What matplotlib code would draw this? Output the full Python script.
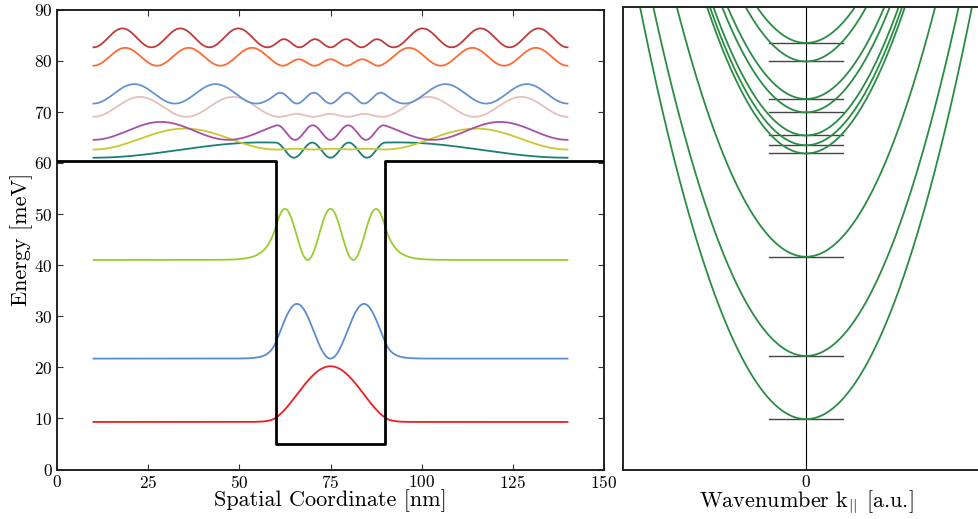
import numpy as np
import matplotlib.pyplot as plt

plt.rcParams['font.family'] = 'serif'
plt.rcParams['font.serif'] = ['cmr10']
plt.rcParams['mathtext.fontset'] = 'cm'
plt.rcParams['axes.formatter.use_mathtext'] = True

# subband energies [meV] (horizontal bars / parabola minima, right panel)
levels = [9.8, 22.1, 41.4, 61.5, 63.1, 65.0, 69.5, 72.1, 79.4, 83.0]
# offset of each |psi|^2 curve in the left panel [meV]
offsets = [9.3, 21.7, 41.0, 61.0, 62.6, 64.5, 69.0, 71.6, 79.0, 82.6]
# peak height of each |psi|^2 curve above its offset [meV]
peaks = [10.9, 10.7, 10.0, 3.0, 4.1, 3.5, 3.9, 3.8, 3.5, 3.7]
colors = ['#ee1d23', '#5b8ccf', '#99cc33', '#1b7f73', '#c8c832',
          '#a64fa6', '#e6bfbc', '#6592d3', '#ff6a33', '#c03b3b']

# conduction band edge of the quantum well
well_x = [0, 60, 60, 90, 90, 150]
well_v = [60.3, 60.3, 5.0, 5.0, 60.3, 60.3]

# simulation box for the wavefunctions
box = (10.0, 140.0)
hb2m = 569.0  # hbar^2 / (2 m*) in meV nm^2, m* = 0.067 m0

# finite-difference Hamiltonian, hard walls at the box edges
n = 1300
x = np.linspace(box[0], box[1], n + 2)
dx = x[1] - x[0]
xi = x[1:-1]
V = np.interp(xi, well_x[1:-1], well_v[1:-1])
t = hb2m / dx**2
H = np.diag(V + 2 * t) - t * np.eye(n, k=1) - t * np.eye(n, k=-1)
E, psi = np.linalg.eigh(H)

fig = plt.figure(figsize=(9.79, 5.19), dpi=100)
W, Hpx = 979.0, 519.0
ax = fig.add_axes([57 / W, (Hpx - 469.5) / Hpx, (604 - 57) / W, (469.5 - 9.5) / Hpx])
ax2 = fig.add_axes([623 / W, (Hpx - 469.5) / Hpx, (989 - 623) / W, (469.5 - 7) / Hpx])

# left panel: potential and probability densities
ax.plot(well_x, well_v, color='black', lw=2.0, zorder=3)
for i in range(len(levels)):
    d = np.zeros(n + 2)
    d[1:-1] = psi[:, i] ** 2
    d = d / d.max() * peaks[i]
    ax.plot(x, offsets[i] + d, color=colors[i], lw=1.3)

ax.set_xlim(0, 150)
ax.set_ylim(0, 90)
ax.set_xticks([0, 25, 50, 75, 100, 125, 150])
ax.set_yticks(range(0, 91, 10))
ax.tick_params(direction='in', top=True, right=True, length=4, labelsize=12.5,
               color='#333333', pad=3)
for s in ax.spines.values():
    s.set_linewidth(1.4)
    s.set_color('#222222')
ax.set_xlabel('Spatial Coordinate [nm]', fontsize=16, labelpad=-1)
ax.set_ylabel('Energy [meV]', fontsize=16, labelpad=1)

# right panel: in-plane dispersion of each subband
k = np.linspace(-1, 1, 401)
curv = 97.5
for e in levels:
    ax2.plot(k, e + curv * k**2, color='#2a8c43', lw=1.3)
    ax2.plot([-0.2, 0.2], [e, e], color='#444444', lw=1.0, zorder=1)
ax2.axvline(0, color='black', lw=0.8, zorder=0)
ax2.set_xlim(-1, 1)
ax2.set_ylim(0, 90)
ax2.set_xticks([0])
ax2.set_yticks([])
ax2.tick_params(length=0, labelsize=12.5, pad=3)
for s in ax2.spines.values():
    s.set_linewidth(1.4)
    s.set_color('#222222')
ax2.set_xlabel(r'Wavenumber k$_{||}$ [a.u.]', fontsize=16, labelpad=-1)

fig.savefig('out.png', dpi=100)
